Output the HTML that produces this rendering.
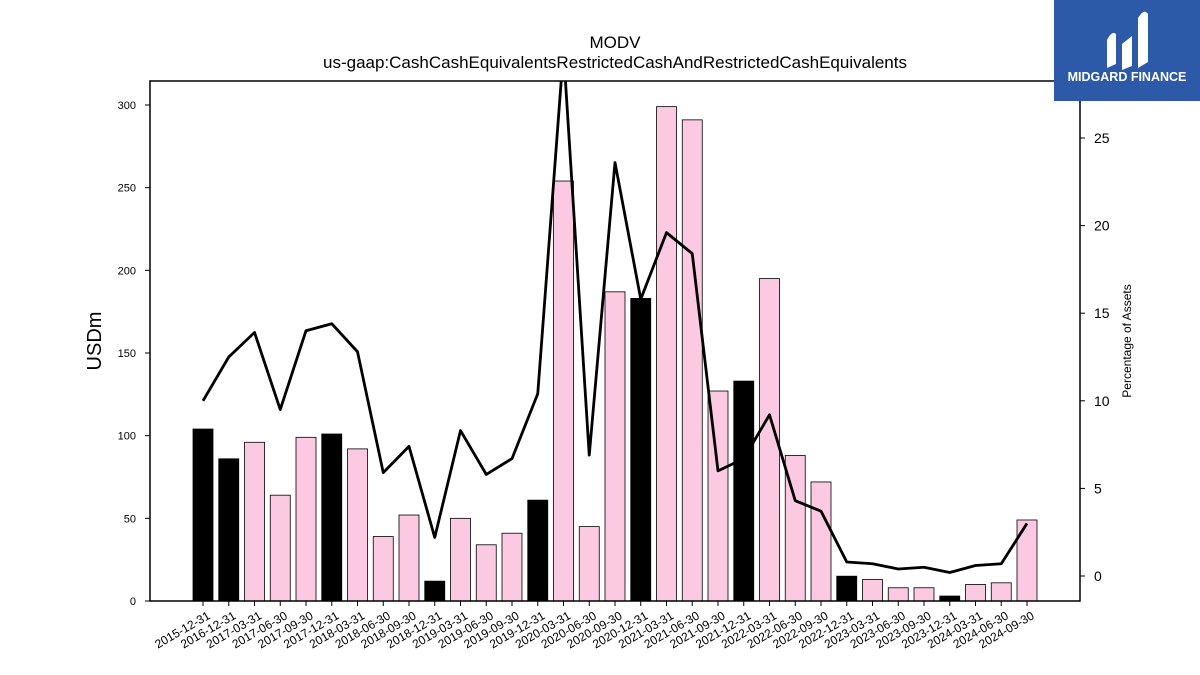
<!DOCTYPE html>
<html><head><meta charset="utf-8"><style>
body{margin:0;background:#fff;}
svg{display:block;font-family:"Liberation Sans",sans-serif;}
</style></head><body>
<svg id="c" width="1200" height="675">
<defs><clipPath id="clip"><rect x="150" y="81" width="930" height="520"/></clipPath></defs>
<text x="615" y="48" text-anchor="middle" font-size="17">MODV</text>
<text x="615" y="68" text-anchor="middle" font-size="17">us-gaap:CashCashEquivalentsRestrictedCashAndRestrictedCashEquivalents</text>
<text transform="translate(101,341) rotate(-90)" text-anchor="middle" font-size="20">USDm</text>
<text transform="translate(1131,341) rotate(-90)" text-anchor="middle" font-size="12">Percentage of Assets</text>
<g id="bars"></g>
<g id="line" clip-path="url(#clip)"></g>
<rect x="150" y="81" width="930" height="520" fill="none" stroke="#000" stroke-width="1.5"/>
<g id="axes"></g>
<g>
<rect x="1054" y="0" width="146" height="101" fill="#2c5aa8"/>
<path d="M1107 68 L1107 40 Q1112 30 1116 34 L1116 64 Z M1122 70 L1122 44 L1132 36 L1132 66 Z M1138 68 L1138 18 Q1144 8 1148 14 L1148 62 Z" fill="#fff"/>
<text x="1127" y="81" text-anchor="middle" font-size="12.5" font-weight="bold" fill="#fff">MIDGARD FINANCE</text>
</g>
</svg>
<script>
const categories=["2015-12-31","2016-12-31","2017-03-31","2017-06-30","2017-09-30","2017-12-31","2018-03-31","2018-06-30","2018-09-30","2018-12-31","2019-03-31","2019-06-30","2019-09-30","2019-12-31","2020-03-31","2020-06-30","2020-09-30","2020-12-31","2021-03-31","2021-06-30","2021-09-30","2021-12-31","2022-03-31","2022-06-30","2022-09-30","2022-12-31","2023-03-31","2023-06-30","2023-09-30","2023-12-31","2024-03-31","2024-06-30","2024-09-30"];
const usdValues=[104,86,96,64,99,101,92,39,52,12,50,34,41,61,254,45,187,183,299,291,127,133,195,88,72,15,13,8,8,3,10,11,49];
const pctValues=[10.0,12.5,13.9,9.5,14.0,14.4,12.8,5.9,7.4,2.2,8.3,5.8,6.7,10.4,30,6.9,23.6,15.8,19.6,18.4,6.0,6.7,9.2,4.3,3.7,0.8,0.7,0.4,0.5,0.2,0.6,0.7,3.0];
const leftTicks=[0,50,100,150,200,250,300];
const rightTicks=[0,5,10,15,20,25];
const NS="http://www.w3.org/2000/svg";
const x=i=>203+i*(1027-203)/32;
const yL=v=>601-v*(520/314.5);
const yR=v=>576-v*17.52;
const isYearEnd=c=>c.endsWith("12-31");
function mk(t,a,p){const e=document.createElementNS(NS,t);for(const k in a)e.setAttribute(k,a[k]);p.appendChild(e);return e;}
const bars=document.getElementById("bars"),line=document.getElementById("line"),axes=document.getElementById("axes");
categories.forEach((c,i)=>{
  const r=mk("rect",{x:x(i)-10,y:yL(usdValues[i]),width:20,height:601-yL(usdValues[i]),fill:isYearEnd(c)?"#000":"#fbc9e2",stroke:"#000","stroke-width":0.8},bars);
  
  
  const tk=mk("line",{x1:x(i),x2:x(i),y1:601,y2:606,stroke:"#000"},axes);
  
  
  const t=mk("text",{transform:`translate(${x(i)+8},618) rotate(-30)`,"text-anchor":"end","font-size":12},axes);
  t.textContent=c;
  
  
});
const p=mk("polyline",{points:pctValues.map((v,i)=>x(i)+","+yR(v)).join(" "),fill:"none",stroke:"#000","stroke-width":2.8,"stroke-linejoin":"round"},line);


leftTicks.forEach(v=>{
  const l=mk("line",{x1:145,x2:150,y1:yL(v),y2:yL(v),stroke:"#000"},axes);
  
  
  const t=mk("text",{x:136,y:yL(v)+4,"text-anchor":"end","font-size":11},axes);
  t.textContent=v;
  
  
});
rightTicks.forEach(v=>{
  const l=mk("line",{x1:1080,x2:1085,y1:yR(v),y2:yR(v),stroke:"#000"},axes);
  
  
  const t=mk("text",{x:1094,y:yR(v)+5,"font-size":14},axes);
  t.textContent=v;
  
  
});
</script>
</body></html>
